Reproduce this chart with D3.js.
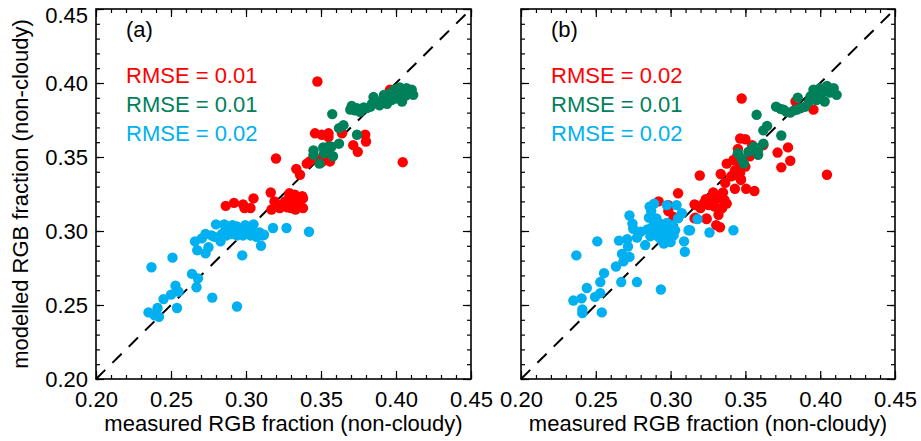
<html>
<head>
<script src="https://d3js.org/d3.v7.min.js"></script>
<style type="text/css">
    body { margin: 0; background: #fff; }
    svg text { font-family: "Liberation Sans", Arial, Helvetica, sans-serif; }
</style>
</head>
<body>
<svg id="chart" width="921" height="441" xmlns="http://www.w3.org/2000/svg"></svg>
<script type="text/javascript">

// ---- data ----
const majorTicks = [0.20, 0.25, 0.30, 0.35, 0.40, 0.45];
const tickLabels = ["0.20", "0.25", "0.30", "0.35", "0.40", "0.45"];
const panelNames = ["(a)", "(b)"];
const rmseA = ["RMSE = 0.01", "RMSE = 0.01", "RMSE = 0.02"];
const rmseB = ["RMSE = 0.02", "RMSE = 0.01", "RMSE = 0.02"];

const redA = [[0.2865,0.317],[0.292,0.319],[0.298,0.318],[0.299,0.3155],[0.303,0.3155],[0.305,0.322],[0.3165,0.326],[0.320,0.349],
    [0.317,0.3145],[0.3205,0.318],[0.325,0.3175],[0.329,0.324],[0.3315,0.321],[0.330,0.3155],[0.338,0.322],[0.338,0.3155],[0.335,0.3175],
    [0.3225,0.3155],[0.3275,0.316],[0.333,0.3145],[0.319,0.320],[0.326,0.320],[0.329,0.3255],[0.3325,0.3245],[0.3375,0.3235],[0.3476,0.401],
    [0.3335,0.342],[0.336,0.338],[0.3405,0.3455],[0.3425,0.347],[0.346,0.366],[0.3505,0.365],[0.355,0.366],[0.355,0.3635],[0.364,0.366],
    [0.348,0.348],[0.3525,0.350],[0.356,0.347],[0.3505,0.3465],[0.3715,0.358],[0.3745,0.3535],[0.3795,0.365],[0.380,0.3605],[0.4045,0.3465],
    [0.396,0.3955],[0.3475,0.3485],[0.345,0.3495]];
const greenA = [[0.345,0.3545],[0.345,0.3515],[0.349,0.3455],[0.3515,0.3565],[0.355,0.357],[0.357,0.357],[0.358,0.3505],[0.362,0.359],
    [0.3575,0.379],[0.362,0.3695],[0.365,0.3715],[0.374,0.365],[0.3705,0.3845],[0.374,0.383],[0.377,0.382],[0.3805,0.383],[0.385,0.3905],
    [0.384,0.386],[0.389,0.385],[0.394,0.386],[0.397,0.3885],[0.396,0.393],[0.399,0.3955],[0.4025,0.397],[0.407,0.3965],[0.4105,0.3955],
    [0.4115,0.392],[0.404,0.3875],[0.4005,0.3905],[0.405,0.393],[0.3725,0.3815],[0.3785,0.3835],[0.383,0.384],[0.387,0.3865],[0.391,0.3885],
    [0.3945,0.3905],[0.398,0.392],[0.403,0.3945],[0.408,0.393],[0.376,0.3805],[0.3695,0.382],[0.392,0.392],[0.3995,0.3895],[0.4065,0.3915],
    [0.401,0.396],[0.352,0.3525],[0.3545,0.354]];
const blueA = [[0.235,0.245],[0.241,0.248],[0.239,0.243],[0.242,0.242],[0.245,0.254],[0.237,0.2755],[0.251,0.282],[0.250,0.257],
    [0.253,0.263],[0.255,0.259],[0.254,0.248],[0.264,0.271],[0.268,0.268],[0.267,0.262],[0.2775,0.255],[0.294,0.249],[0.2975,0.2835],
    [0.266,0.293],[0.2675,0.287],[0.273,0.285],[0.275,0.289],[0.2705,0.295],[0.273,0.298],[0.277,0.297],[0.280,0.3045],[0.283,0.293],
    [0.2855,0.3045],[0.289,0.301],[0.291,0.304],[0.294,0.303],[0.287,0.297],[0.294,0.297],[0.300,0.302],[0.305,0.3045],[0.303,0.297],
    [0.307,0.296],[0.311,0.297],[0.310,0.290],[0.318,0.302],[0.327,0.302],[0.342,0.2995],[0.312,0.2975],[0.286,0.300],[0.290,0.298],
    [0.292,0.299],[0.296,0.300],[0.298,0.297],[0.301,0.299],[0.2885,0.303],[0.284,0.298],[0.279,0.296],[0.2995,0.304],[0.297,0.2985],
    [0.304,0.300],[0.309,0.299]];

const redB = [[0.292,0.320],[0.2985,0.3175],[0.2985,0.3135],[0.305,0.3255],[0.3195,0.3375],[0.302,0.3095],[0.316,0.318],[0.316,0.3085],
    [0.324,0.3085],[0.3285,0.326],[0.335,0.326],[0.343,0.3285],[0.3505,0.3285],[0.356,0.327],[0.347,0.3345],[0.3165,0.3175],[0.322,0.3185],
    [0.3265,0.320],[0.3295,0.3165],[0.3375,0.3185],[0.332,0.311],[0.3305,0.304],[0.333,0.3025],[0.3165,0.309],[0.324,0.308],[0.320,0.3155],
    [0.3335,0.3385],[0.3415,0.3375],[0.347,0.335],[0.3375,0.3455],[0.342,0.348],[0.3465,0.3445],[0.350,0.3435],[0.3465,0.3625],[0.350,0.362],
    [0.3545,0.358],[0.362,0.358],[0.3475,0.3895],[0.3715,0.353],[0.3785,0.3565],[0.380,0.3475],[0.374,0.343],[0.4045,0.338],[0.3835,0.3875],
    [0.3955,0.382],[0.3295,0.323],[0.327,0.3225],[0.3235,0.3215],[0.3325,0.322],[0.336,0.321],[0.343,0.341],[0.3465,0.3395],[0.353,0.3505],
    [0.3445,0.3505],[0.3365,0.3325],[0.3255,0.3175],[0.3345,0.3155],[0.3405,0.337],[0.345,0.3555]];
const greenB = [[0.3575,0.3785],[0.362,0.368],[0.3645,0.371],[0.374,0.3645],[0.362,0.359],[0.3555,0.357],[0.352,0.3535],[0.3585,0.3515],
    [0.345,0.3525],[0.349,0.3455],[0.3545,0.3545],[0.3705,0.384],[0.3755,0.382],[0.380,0.380],[0.3845,0.382],[0.385,0.390],[0.390,0.384],
    [0.3955,0.3955],[0.400,0.3965],[0.4045,0.398],[0.409,0.3965],[0.411,0.392],[0.403,0.3875],[0.3975,0.3885],[0.4065,0.3935],[0.401,0.393],
    [0.3775,0.3805],[0.3825,0.3815],[0.387,0.383],[0.3925,0.3875],[0.3935,0.391],[0.3965,0.392],[0.4025,0.3945],[0.3735,0.3825],
    [0.3585,0.355],[0.3475,0.349]];
const blueB = [[0.235,0.253],[0.2405,0.2545],[0.241,0.247],[0.241,0.2445],[0.254,0.245],[0.244,0.2615],[0.2495,0.2555],[0.253,0.258],
    [0.253,0.2655],[0.2555,0.2715],[0.237,0.2835],[0.251,0.293],[0.2635,0.276],[0.267,0.2655],[0.2685,0.2795],[0.2675,0.2845],[0.2725,0.2825],
    [0.2655,0.2935],[0.271,0.2945],[0.2715,0.2895],[0.2745,0.305],[0.2725,0.3105],[0.275,0.3015],[0.2775,0.2955],[0.2775,0.2655],[0.280,0.2995],
    [0.283,0.2905],[0.2845,0.301],[0.286,0.3165],[0.289,0.3185],[0.2905,0.3085],[0.2935,0.2605],[0.2975,0.3175],[0.304,0.3175],[0.305,0.3085],
    [0.3075,0.312],[0.309,0.293],[0.3095,0.286],[0.312,0.3005],[0.318,0.308],[0.326,0.299],[0.342,0.3005],[0.313,0.3005],[0.288,0.303],
    [0.289,0.298],[0.291,0.300],[0.292,0.296],[0.294,0.2935],[0.295,0.299],[0.2965,0.302],[0.298,0.2965],[0.2995,0.3005],[0.301,0.304],
    [0.302,0.297],[0.3,0.2925],[0.293,0.305],[0.2865,0.2965],[0.2955,0.2915],[0.291,0.3045],[0.2975,0.3055],[0.303,0.3005],[0.2855,0.309],
    [0.287,0.3135]];

const RED = "#ff0000", GREEN = "#00805a", BLUE = "#00b0f0";

const svg = d3.select("#chart");
const TOP = 9, H = 370;

function drawPanel(left, width, name, rmse, red, green, blue, showY) {
    const x = d3.scaleLinear().domain([0.2, 0.45]).range([0, width]);
    const y = d3.scaleLinear().domain([0.2, 0.45]).range([H, 0]);
    const g = svg.append("g").attr("transform", `translate(${left},${TOP})`);
    const minor = d3.range(0.20, 0.4501, 0.01);
    const fmt = (d, i) => tickLabels[majorTicks.indexOf(d)] || "";

    // minor ticks on all four sides
    g.append("g").attr("transform", `translate(0,${H})`).call(d3.axisBottom(x).tickValues(minor).tickSize(-4).tickFormat(""));
    g.append("g").call(d3.axisTop(x).tickValues(minor).tickSize(-4).tickFormat(""));
    g.append("g").call(d3.axisLeft(y).tickValues(minor).tickSize(-4).tickFormat(""));
    g.append("g").attr("transform", `translate(${width},0)`).call(d3.axisRight(y).tickValues(minor).tickSize(-4).tickFormat(""));

    // major ticks
    g.append("g").attr("class", "xax").attr("transform", `translate(0,${H})`)
        .call(d3.axisBottom(x).tickValues(majorTicks).tickSize(-8).tickPadding(12).tickFormat(fmt));
    g.append("g").call(d3.axisTop(x).tickValues(majorTicks).tickSize(-8).tickFormat(""));
    const ya = g.append("g").attr("class", "yax")
        .call(d3.axisLeft(y).tickValues(majorTicks).tickSize(-8).tickPadding(8).tickFormat(showY ? fmt : ""));
    g.append("g").attr("transform", `translate(${width},0)`).call(d3.axisRight(y).tickValues(majorTicks).tickSize(-8).tickFormat(""));

    g.selectAll(".domain").remove();
    g.selectAll(".tick line").attr("stroke", "#000").attr("stroke-width", 1.2);
    g.selectAll(".tick text").attr("font-size", 22).attr("fill", "#000")
        .attr("font-family", "'Liberation Sans', Arial, Helvetica, sans-serif");
    // keep the top label inside the picture
    ya.selectAll(".tick text").filter(d => d === 0.45).attr("dy", "0.6em");

    // 1:1 line
    g.append("line")
        .attr("x1", x(0.2)).attr("y1", y(0.2)).attr("x2", x(0.45)).attr("y2", y(0.45))
        .attr("stroke", "#000").attr("stroke-width", 2).attr("stroke-dasharray", "13,10");

    const dots = (data, col) => g.append("g").selectAll("circle").data(data).join("circle")
        .attr("cx", d => x(d[0])).attr("cy", d => y(d[1])).attr("r", 5.2).attr("fill", col);
    dots(red, RED);
    dots(green, GREEN);
    dots(blue, BLUE);

    g.append("rect").attr("x", 0).attr("y", 0).attr("width", width).attr("height", H)
        .attr("fill", "none").attr("stroke", "#000").attr("stroke-width", 1.6);

    g.append("text").attr("x", 30).attr("y", 28).attr("font-size", 22).text(name);
    const cols = [RED, GREEN, BLUE];
    rmse.forEach((t, i) => {
        g.append("text").attr("x", 30).attr("y", 74 + i * 29).attr("font-size", 22).attr("fill", cols[i]).text(t);
    });

    g.append("text").attr("x", width / 2).attr("y", 422).attr("text-anchor", "middle")
        .attr("font-size", 22).text("measured RGB fraction (non-cloudy)");
}

drawPanel(96, 375, panelNames[0], rmseA, redA, greenA, blueA, true);
drawPanel(521, 374, panelNames[1], rmseB, redB, greenB, blueB, false);

svg.append("text").attr("transform", "translate(28,194) rotate(-90)").attr("text-anchor", "middle")
    .attr("font-size", 22).text("modelled RGB fraction (non-cloudy)");

</script>
</body>
</html>
